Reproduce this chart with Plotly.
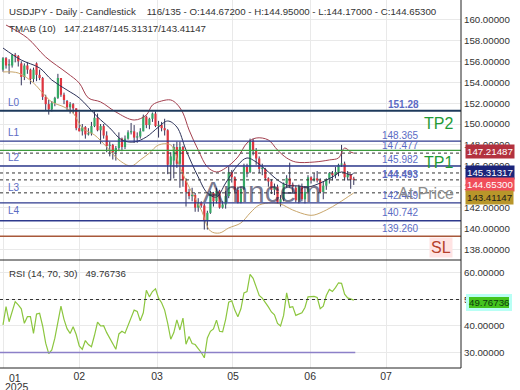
import plotly.graph_objects as go

# ---------------- data (USDJPY daily, 116 bars) ----------------
opens = [155.2,156.3,155.6,155.6,156.6,156.5,155.8,154.5,155.6,155.2,154.3,
         155.8,154.7,154.4,152.6,151.9,151.4,152.0,152.5,154.4,152.8,152.2,151.6,151.9,151.5,149.6,149.3,149.7,149.0,149.1,149.8,
         150.6,149.4,149.8,148.9,147.9,148.0,147.3,147.7,148.6,147.8,148.6,149.2,149.3,148.7,148.8,149.3,150.7,149.9,150.5,151.0,149.8,
         149.9,149.6,149.4,146.1,146.5,147.8,146.2,147.8,144.6,143.5,143.1,143.2,142.0,142.5,142.2,140.8,141.5,143.4,142.6,143.6,142.0,142.3,
         143.1,145.4,144.9,143.7,142.5,143.8,145.9,145.4,148.4,147.5,146.7,145.7,145.7,144.8,144.5,143.7,144.0,142.5,142.8,144.3,144.8,144.2,
         143.9,142.7,144.0,142.8,143.5,144.9,144.6,144.8,144.6,143.5,144.1,144.7,145.3,145.1,145.4,146.1,146.2,144.9,145.2,144.672]
highs = [156.4,156.4,156.2,156.7,156.8,156.6,156.0,155.8,155.9,155.3,155.4,
         155.9,155.2,154.5,152.8,152.3,152.2,152.6,154.8,154.4,153.0,152.3,152.1,152.0,151.5,151.2,150.0,149.8,149.6,150.2,151.2,
         151.0,150.0,150.0,149.3,148.3,148.1,147.9,149.2,148.7,148.9,149.4,150.1,149.9,149.2,149.6,150.9,150.8,150.6,151.1,151.2,150.3,
         150.2,150.5,149.5,147.3,148.1,148.3,148.3,147.9,144.8,143.8,143.9,143.4,142.9,142.6,142.4,141.7,143.6,143.5,143.9,143.7,142.6,143.6,
         145.9,145.6,145.0,144.0,144.0,146.2,146.2,148.6,148.6,147.7,146.9,146.2,145.8,144.9,144.7,144.3,144.2,143.2,144.4,145.1,146.3,144.4,
         144.1,144.2,144.3,144.0,145.1,145.0,145.3,145.5,144.8,144.5,144.8,145.4,145.5,145.9,146.2,148.0,146.4,145.5,145.2,144.95]
lows = [155.0,155.3,154.8,155.4,155.9,155.5,153.7,154.2,154.8,153.8,154.0,
        154.1,154.2,152.3,151.3,150.9,151.2,151.7,152.4,152.6,151.9,151.3,151.0,151.0,149.4,149.3,148.9,148.6,148.9,148.9,149.7,
        149.3,148.1,148.6,147.3,146.9,146.6,146.5,147.4,147.4,147.6,148.5,149.0,148.2,148.2,148.6,149.3,149.6,149.5,150.2,149.7,148.7,
        149.3,148.9,145.2,144.6,144.8,145.8,143.9,144.0,142.1,142.8,142.6,141.6,141.6,142.0,139.9,139.9,141.4,142.1,142.4,141.9,141.9,141.9,
        142.9,144.4,143.5,142.4,142.4,143.7,144.9,145.3,147.0,146.1,145.3,145.1,144.6,144.0,143.3,143.2,142.4,142.1,142.6,143.9,143.9,143.4,
        142.5,142.4,142.6,142.4,143.5,144.3,144.5,144.4,143.4,142.8,143.7,144.3,144.6,144.8,145.0,145.9,144.6,144.6,143.8,144.17]
closes = [156.3,155.6,155.6,156.6,156.5,156.0,154.5,155.6,155.2,154.3,155.2,
          154.7,154.4,152.6,151.9,151.4,152.0,152.5,154.4,152.8,152.3,151.6,151.9,151.5,149.6,149.3,149.7,149.0,149.1,149.8,150.6,
          149.4,149.8,148.9,147.9,148.0,147.3,147.7,148.6,147.8,148.6,149.2,149.3,148.7,148.8,149.3,150.7,149.9,150.5,151.0,149.8,149.9,
          149.6,149.4,146.1,146.9,147.8,146.2,147.8,144.6,143.5,143.1,143.2,142.0,142.5,142.2,140.8,141.5,143.4,142.6,143.6,142.0,142.3,143.1,
          145.4,144.9,143.7,142.5,143.8,145.9,145.4,148.4,147.5,146.7,145.7,145.7,144.8,144.5,143.7,144.0,142.5,142.8,144.3,144.8,144.2,144.0,
          142.7,144.0,142.8,143.5,144.9,144.6,144.8,144.6,143.5,144.1,144.7,145.3,145.1,145.4,146.1,146.2,144.9,145.2,144.672,144.653]

# TMA bands (bar index, price)
upper_idx = [1,8,14,21,25,28,32,37,43,47,49,52,55,57,59,61,64,67,70,73,77,80,83,87,90,93,96,102,107,110,112,114,115]
upper_val = [159.47,158.23,156.41,154.88,153.92,152.49,152.11,151.15,150.38,150.86,151.82,152.2,152.3,151.91,151.05,149.43,
             147.51,145.89,145.41,145.79,146.84,148.18,148.66,148.47,147.51,146.75,146.36,146.36,146.56,146.75,147.70,147.32,147.21487]
mid_idx = [0,6,12,16,21,25,31,35,39,43,47,51,54,57,60,64,67,70,73,77,80,83,87,90,93,97,100,104,108,111,114,115]
mid_val = [157.27,156.12,155.36,154.21,153.25,152.49,150.67,149.62,148.47,148.28,148.76,149.71,150.29,149.71,147.51,144.93,
           143.40,143.01,144.35,146.08,146.75,146.36,145.41,144.64,144.16,144.07,143.97,144.35,144.93,145.41,145.12,145.31317]
lower_idx = [0,5,10,13,16,20,23,26,30,34,38,42,45,48,51,55,58,61,65,68,71,74,78,81,84,88,91,95,100,102,106,110,114,115]
lower_val = [154.98,154.88,153.92,152.97,152.11,151.63,151.05,149.62,148.95,147.80,146.56,145.98,146.56,147.22,147.99,147.99,
             145.89,143.97,141.77,139.76,139.57,140.05,140.53,141.48,142.25,142.44,142.34,141.77,141.29,141.29,141.77,142.44,143.21,143.41147]

rsi = [40.4,47.3,41.6,45.0,49.2,48.0,46.5,41.0,43.5,43.5,37.2,44.5,44.8,40.0,33.5,29.6,31.0,35.4,42.0,47.5,
       42.5,39.0,37.2,39.7,36.8,32.5,31.2,34.5,33.0,32.2,36.5,41.5,40.0,40.1,37.5,35.5,33.5,31.2,37.0,38.0,
       37.3,40.0,43.0,46.0,45.5,42.0,45.0,53.5,51.0,53.0,54.0,50.5,48.8,46.0,41.0,35.0,37.5,42.3,38.5,43.0,
       33.1,36.0,33.4,33.0,31.5,30.0,28.0,35.5,38.0,38.9,42.2,38.0,37.8,42.5,49.0,49.5,46.0,43.5,46.5,52.5,
       53.0,59.5,58.0,55.0,51.5,50.5,49.0,47.2,45.3,44.2,41.0,40.0,44.0,52.5,47.0,47.3,44.0,44.5,45.0,47.0,
       51.0,51.1,51.2,50.8,46.5,47.5,51.5,53.8,53.0,54.5,56.3,56.1,52.0,50.6,50.2,49.76736]

levels = [151.28, 148.365, 145.982, 142.449, 140.742]
tp2_level = 147.477
sl_level = 139.26
tmab_now = [147.21487, 145.31317, 143.41147]
last_price = 144.653

xtick_vals = [0, 25, 50.5, 75.4, 100.7, 125.6]
xtick_text = ["", "02", "03", "05", "06", "07"]
price_ticks = [136, 138, 140, 142, 144, 146, 148, 150, 152, 154, 156, 158, 160]
rsi_ticks = [20, 30, 40, 50, 60]

FONT = "Liberation Sans, Arial, sans-serif"
W, H = 520, 390
def px(x): return x / W
def py(y): return 1 - y / H

n = len(closes)
fig = go.Figure()

# wicks
wx, wy = [], []
for i in range(n):
    wx += [i, i, None]; wy += [lows[i], highs[i], None]
fig.add_trace(go.Scatter(x=wx, y=wy, mode="lines", line=dict(color="#34345a", width=1),
                         hoverinfo="skip", showlegend=False, xaxis="x", yaxis="y"))
# bodies
ux, uy, dx, dy = [], [], [], []
for i in range(n):
    o, c = opens[i], closes[i]
    lo, hi = min(o, c), max(o, c)
    if hi - lo < 0.12:
        hi = lo + 0.12
    if c >= o:
        ux += [i, i, None]; uy += [lo, hi, None]
    else:
        dx += [i, i, None]; dy += [lo, hi, None]
fig.add_trace(go.Scatter(x=ux, y=uy, mode="lines", line=dict(color="#35a866", width=2.2),
                         hoverinfo="skip", showlegend=False, xaxis="x", yaxis="y"))
fig.add_trace(go.Scatter(x=dx, y=dy, mode="lines", line=dict(color="#e0353f", width=2.2),
                         hoverinfo="skip", showlegend=False, xaxis="x", yaxis="y"))
# bands
fig.add_trace(go.Scatter(x=upper_idx, y=upper_val, mode="lines", line=dict(color="#a3404f", width=1, shape="spline"),
                         showlegend=False, xaxis="x", yaxis="y"))
fig.add_trace(go.Scatter(x=mid_idx, y=mid_val, mode="lines", line=dict(color="#2b3158", width=1, shape="spline"),
                         showlegend=False, xaxis="x", yaxis="y"))
fig.add_trace(go.Scatter(x=lower_idx, y=lower_val, mode="lines", line=dict(color="#c9a66b", width=1, shape="spline"),
                         showlegend=False, xaxis="x", yaxis="y"))
# RSI
fig.add_trace(go.Scatter(x=list(range(n)), y=rsi, mode="lines", line=dict(color="#8cc63f", width=1.2),
                         showlegend=False, xaxis="x2", yaxis="y2"))

shapes = []
def hline(v, color, width, dash="solid", yref="y", xref="x domain"):
    shapes.append(dict(type="line", xref=xref, x0=0, x1=1, yref=yref, y0=v, y1=v,
                       line=dict(color=color, width=width, dash=dash), layer="above"))
hline(levels[0], "#1e3a5c", 2)
for v in levels[1:]:
    hline(v, "#2e3a8e", 1.4)
hline(tp2_level, "#3c9a3c", 1.4)
hline(sl_level, "#a8583a", 1.4)
for v in tmab_now + [last_price]:
    hline(v, "#333333", 1, "dot")
hline(50, "#333333", 1.2, "dot", yref="y2", xref="x2 domain")
shapes.append(dict(type="line", xref="x2", x0=-1, x1=115.5, yref="y2", y0=30, y1=30,
                   line=dict(color="#8c80c8", width=1.4)))
# panel frame lines
shapes.append(dict(type="line", xref="paper", yref="paper", x0=0, x1=px(461), y0=py(260), y1=py(260),
                   line=dict(color="#222", width=1)))
shapes.append(dict(type="line", xref="paper", yref="paper", x0=0, x1=px(461), y0=py(368), y1=py(368),
                   line=dict(color="#222", width=1)))
shapes.append(dict(type="line", xref="paper", yref="paper", x0=px(461), x1=px(461), y0=py(368), y1=1,
                   line=dict(color="#222", width=1)))

anns = []
def ann(text, x, y, size=10, color="#333", xanchor="left", **kw):
    d = dict(text=text, xref="paper", yref="paper", x=px(x), y=py(y), xanchor=xanchor, yanchor="middle",
             showarrow=False, font=dict(family=FONT, size=size, color=color))
    d.update(kw)
    anns.append(d)

NB = "\u00a0"
ann("USDJPY - Daily - Candlestick" + NB * 4 + "116/135 - O:144.67200 - H:144.95000 - L:144.17000 - C:144.65300",
    7, 11, 9.7, "#333")
ann("TMAB (10)" + NB * 3 + "147.21487/145.31317/143.41147", 7, 29, 9.7, "#333")
ann("RSI (14, 70, 30)" + NB * 3 + "49.76736", 7, 273, 9.7, "#333")

for t, y in [("L0", 103), ("L1", 132), ("L2", 157), ("L3", 187), ("L4", 210)]:
    ann(t, 6, y, 10, "#5b6bc4")
for t, y, b in [("151.28", 105, True), ("148.365", 135, False), ("147.477", 145, False), ("145.982", 159, False),
                ("144.493", 175, True), ("142.449", 195, False), ("140.742", 213, False), ("139.260", 228, False)]:
    ann("<b>%s</b>" % t if b else t, 421, y, 10, "#5b6bc4", "right")

ann("TP2", 455, 123, 16, "#1f9a36", "right")
ann("TP1", 455, 162, 16, "#1f9a36", "right")
ann("At Price", 456, 193, 16, "#8c8c8c", "right")
ann("SL", 453, 247, 16, "#b5402c", "right", bgcolor="#ffe3e3")
ann("Amncem", 262, 191, 30, "rgba(30,34,70,0.62)", "center")

for t, y, bg, fc in [("147.21487", 152, "#b3323f", "white"), ("145.31317", 172, "#1b247a", "white"),
                     ("144.65300", 184, "#f04e5a", "white"), ("143.41147", 197, "#b8962a", "#1a1a1a")]:
    ann(t, 465, y, 9.7, fc, "left", bgcolor=bg, borderpad=1)
ann("49.76736", 466, 302, 9.7, "#0c3a0c", "left", bgcolor="#44c41e", bordercolor="#b8fff4", borderwidth=3, borderpad=0)

ann("01", 7, 378, 10.5, "#333")
ann("2025", 3, 387, 10.5, "#333")

xr = [-0.984, 150.16]
fig.update_layout(
    width=W, height=H, margin=dict(l=0, r=0, t=0, b=0, autoexpand=False),
    paper_bgcolor="white", plot_bgcolor="white", showlegend=False,
    font=dict(family=FONT, size=11, color="#333"),
    shapes=shapes, annotations=anns,
    xaxis=dict(domain=[0, px(461)], range=xr, tickvals=xtick_vals, showticklabels=False,
               showgrid=True, gridcolor="#e9e9e9", zeroline=False, anchor="y", fixedrange=True),
    xaxis2=dict(domain=[0, px(461)], range=xr, tickvals=xtick_vals, ticktext=xtick_text,
                showgrid=True, gridcolor="#e9e9e9", zeroline=False, anchor="y2", ticks="",
                tickfont=dict(family=FONT, size=10.5, color="#333"), matches="x"),
    yaxis=dict(domain=[py(260), 1], range=[136.986, 161.866], side="right", tickvals=price_ticks,
               tickformat=".5f", showgrid=True, gridcolor="#e9e9e9", zeroline=False, anchor="x",
               ticks="", ticklabelstandoff=2, tickfont=dict(family=FONT, size=9.7, color="#333")),
    yaxis2=dict(domain=[py(368), py(260)], range=[24.15, 64.9], side="right", tickvals=rsi_ticks,
                tickformat=".5f", showgrid=True, gridcolor="#e9e9e9", zeroline=False, anchor="x2",
                ticks="", ticklabelstandoff=2, tickfont=dict(family=FONT, size=9.7, color="#333")),
)
fig.write_html("out.html", config={"displayModeBar": False},
               post_script="document.body.style.margin='0';document.body.style.padding='0';")
